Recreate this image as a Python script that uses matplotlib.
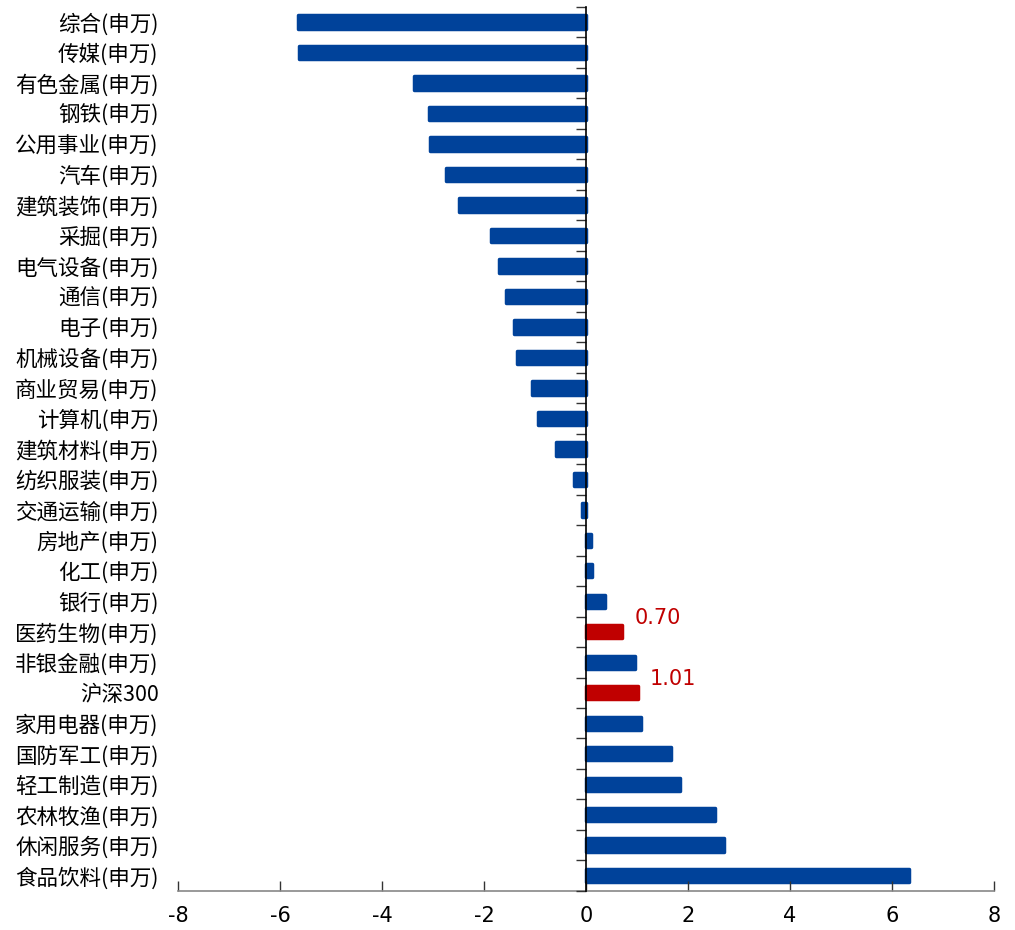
import matplotlib
matplotlib.use("Agg")
import matplotlib.pyplot as plt

plt.rcParams["font.family"] = ["Noto Sans CJK SC", "DejaVu Sans"]

# top to bottom, as in the picture
industries = [
    "综合(申万)", "传媒(申万)", "有色金属(申万)", "钢铁(申万)", "公用事业(申万)",
    "汽车(申万)", "建筑装饰(申万)", "采掘(申万)", "电气设备(申万)", "通信(申万)",
    "电子(申万)", "机械设备(申万)", "商业贸易(申万)", "计算机(申万)", "建筑材料(申万)",
    "纺织服装(申万)", "交通运输(申万)", "房地产(申万)", "化工(申万)", "银行(申万)",
    "医药生物(申万)", "非银金融(申万)", "沪深300", "家用电器(申万)", "国防军工(申万)",
    "轻工制造(申万)", "农林牧渔(申万)", "休闲服务(申万)", "食品饮料(申万)",
]
returns = [
    -5.65, -5.63, -3.37, -3.08, -3.06,
    -2.75, -2.49, -1.86, -1.71, -1.56,
    -1.41, -1.35, -1.06, -0.95, -0.59,
    -0.24, -0.07, 0.09, 0.11, 0.38,
    0.70, 0.96, 1.01, 1.08, 1.66,
    1.84, 2.52, 2.71, 6.34,
]
highlight = ["医药生物(申万)", "沪深300"]
x_ticks = [-8, -6, -4, -2, 0, 2, 4, 6, 8]

BLUE = "#00429A"
RED = "#C00000"

fig = plt.figure(figsize=(10.15, 9.3), dpi=100)
AX_L, AX_B, AX_W, AX_H = 0.1754, 0.042, 0.8039, 0.9508
ax = fig.add_axes([AX_L, AX_B, AX_W, AX_H])

pos = list(range(len(industries)))
colors = [RED if name in highlight else BLUE for name in industries]
ax.barh(pos, returns, height=0.44, color=colors, edgecolor=colors,
        linewidth=2.5, joinstyle="round")

for name, p, v in zip(industries, pos, returns):
    if name in highlight:
        ax.annotate(f"{v:.2f}", xy=(v, p), xytext=(9, 3), textcoords="offset points",
                    ha="left", va="bottom", color=RED, fontsize=15,
                    family="DejaVu Sans")

ax.set_xlim(-8, 8)
ax.set_ylim(len(industries) - 0.5, -0.5)

# category labels at the left edge of the plot
ax.set_yticks(pos)
ax.set_yticklabels(industries, fontsize=15.5)
ax.tick_params(axis="y", length=0, pad=14)

ax.set_xticks(x_ticks)
ax.set_xticklabels([str(t) for t in x_ticks], family="DejaVu Sans", fontsize=15)
ax.tick_params(axis="x", direction="in", length=7, width=1, color="#333333", pad=11)

for side in ["left", "top", "right"]:
    ax.spines[side].set_visible(False)
ax.spines["bottom"].set_color("#888888")
ax.spines["bottom"].set_linewidth(1.2)

# zero line with ticks between categories: a zero-width axes sitting at x = 0
zero_x = AX_L + AX_W * (0 - ax.get_xlim()[0]) / (ax.get_xlim()[1] - ax.get_xlim()[0])
zax = fig.add_axes([zero_x, AX_B, 1e-6, AX_H], facecolor="none")
zax.set_ylim(ax.get_ylim())
zax.set_xticks([])
zax.set_yticks([p - 0.5 for p in pos] + [len(industries) - 0.5])
zax.set_yticklabels([])
for side in ["top", "right", "bottom"]:
    zax.spines[side].set_visible(False)
zax.spines["left"].set_color("black")
zax.spines["left"].set_linewidth(1.2)
zax.tick_params(axis="y", direction="out", length=7, width=1, color="#333333",
                left=True, right=False)

fig.savefig("out.png", dpi=100)
